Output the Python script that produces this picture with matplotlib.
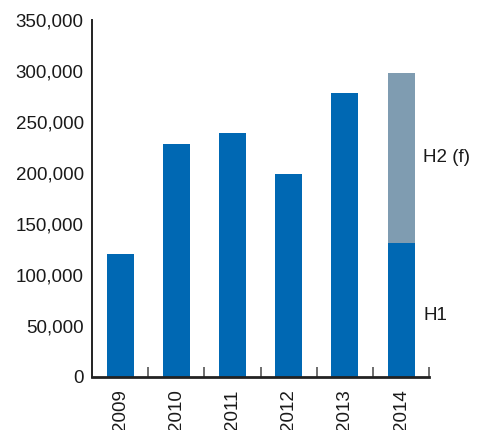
import matplotlib.pyplot as plt
import numpy as np

plt.rcParams['font.family'] = ['Liberation Sans', 'DejaVu Sans']

years = ['2009', '2010', '2011', '2012', '2013', '2014']
h1 = [120000, 228000, 239000, 199000, 278000, 131000]
h2 = [0, 0, 0, 0, 0, 167000]
ticks_y = [0, 50000, 100000, 150000, 200000, 250000, 300000, 350000]

blue = '#0068b3'
grey = '#7f9cb1'

fig = plt.figure(figsize=(4.79, 4.30), dpi=100)
ax = fig.add_axes([0.192, 0.124, 0.704, 0.830])

x = np.arange(len(years))
ax.bar(x, h1, width=0.48, color=blue)
ax.bar(x, h2, width=0.48, bottom=h1, color=grey)

ax.set_xlim(-0.5, 5.5)
ax.set_ylim(0, 350000)
ax.set_yticks(ticks_y)
ax.set_yticklabels([f'{v:,}' for v in ticks_y], fontsize=13.5, color='#1a1a1a')
ax.tick_params(axis='y', length=0, pad=6)

ax.set_xticks(x)
ax.set_xticklabels(years, rotation=90, fontsize=13.5, color='#1a1a1a')
ax.tick_params(axis='x', which='major', length=0, pad=9)
ax.set_xticks(x + 0.5, minor=True)
ax.tick_params(axis='x', which='minor', direction='in', length=7, width=1.2, color='#555555')

for s in ['top', 'right']:
    ax.spines[s].set_visible(False)
ax.spines['left'].set_linewidth(1.4)
ax.spines['bottom'].set_linewidth(2)
ax.spines['left'].set_color('#222222')
ax.spines['bottom'].set_color('#222222')

ax.text(5.39, h1[5] + h2[5] / 2, 'H2 (f)', fontsize=13.5, va='center', ha='left',
        color='#1a1a1a', clip_on=False)
ax.text(5.39, 60000, 'H1', fontsize=13.5, va='center', ha='left',
        color='#1a1a1a', clip_on=False)

fig.savefig('out.png', dpi=100)
